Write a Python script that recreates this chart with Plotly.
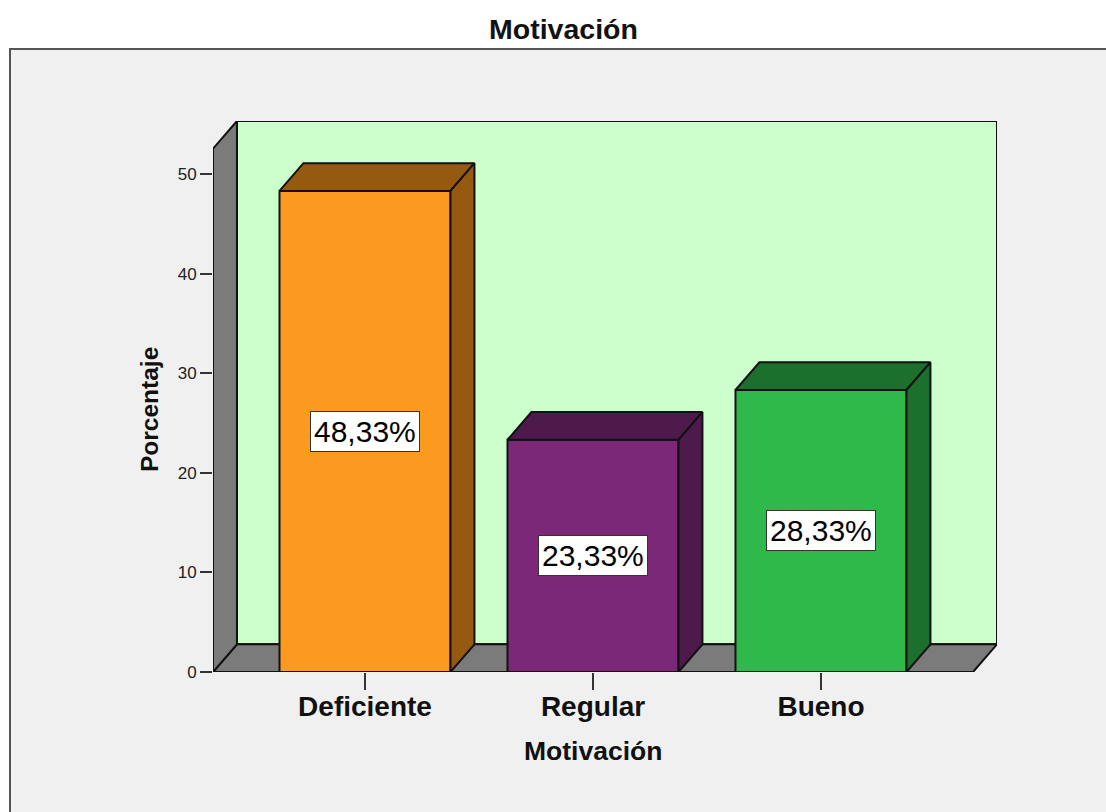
import plotly.graph_objects as go

# Survey results: share of respondents per motivation level
categories = ["Deficiente", "Regular", "Bueno"]
percentages = [48.33, 23.33, 28.33]
y_ticks = [0, 10, 20, 30, 40, 50]

front_colors = ["#FB9A1E", "#7B2878", "#2FB94B"]
shade_colors = ["#955A0F", "#4D1A4B", "#1C702D"]

FONT = "Liberation Sans"
EDGE = "#111111"
WIDTH, HEIGHT = 1106, 812
LEFT, RIGHT, TOP, BOTTOM = 213, 109, 121, 140

# Axis limits and the oblique depth offset, all in data units
X_MIN, X_MAX = -0.6667, 2.772
Y_MAX = 55.35
DX, DY = 0.105, 2.78
BAR_W = 0.75
EDGE_W = 2


def polygon(points):
    return "M " + " L ".join(f"{x},{y}" for x, y in points) + " Z"


def paper_x(px):
    return (px - LEFT) / (WIDTH - LEFT - RIGHT)


def paper_y(py):
    return 1 - (py - TOP) / (HEIGHT - TOP - BOTTOM)


positions = list(range(len(categories)))
fig = go.Figure()

# Front faces of the bars
fig.add_trace(go.Bar(
    x=positions, y=percentages, width=BAR_W,
    marker=dict(color=front_colors, line=dict(color=EDGE, width=EDGE_W)),
    hoverinfo="x+y", showlegend=False,
))

# Top and side faces of each bar, offset by the depth vector
for pos, value, shade in zip(positions, percentages, shade_colors):
    x0, x1 = pos - BAR_W / 2, pos + BAR_W / 2
    top_x = [x0, x0 + DX, x1 + DX, x1, x0]
    top_y = [value, value + DY, value + DY, value, value]
    side_x = [x1, x1 + DX, x1 + DX, x1, x1]
    side_y = [0, DY, value + DY, value, 0]
    for xs, ys in ((top_x, top_y), (side_x, side_y)):
        fig.add_trace(go.Scatter(
            x=xs, y=ys, mode="lines", fill="toself", fillcolor=shade,
            line=dict(color=EDGE, width=EDGE_W), hoverinfo="skip", showlegend=False,
        ))

# Chart panel, back wall, floor and left wall sit behind the bars
shapes = [
    dict(type="rect", xref="paper", yref="paper", layer="below",
         x0=paper_x(10), x1=paper_x(1120), y0=paper_y(49), y1=paper_y(830),
         fillcolor="#F0F0F0", line=dict(color="#555555", width=2)),
    dict(type="path", xref="x", yref="y", layer="below",
         path=polygon([(X_MIN + DX, DY), (X_MAX, DY), (X_MAX, Y_MAX), (X_MIN + DX, Y_MAX)]),
         fillcolor="#CCFFCC", line=dict(color=EDGE, width=EDGE_W)),
    dict(type="path", xref="x", yref="y", layer="below",
         path=polygon([(X_MIN, 0), (X_MAX - DX, 0), (X_MAX, DY), (X_MIN + DX, DY)]),
         fillcolor="#7B7B7B", line=dict(color=EDGE, width=EDGE_W)),
    dict(type="path", xref="x", yref="y", layer="below",
         path=polygon([(X_MIN, 0), (X_MIN + DX, DY), (X_MIN + DX, Y_MAX), (X_MIN, Y_MAX - DY)]),
         fillcolor="#7B7B7B", line=dict(color=EDGE, width=EDGE_W)),
]

# Percentage labels centred on each bar, in Spanish decimal notation
annotations = [
    dict(x=pos, y=value / 2, xref="x", yref="y", showarrow=False,
         text=f"{value:.2f}%".replace(".", ","),
         font=dict(family=FONT, size=30, color="#000000"),
         bgcolor="#FFFFFF", bordercolor="#333333", borderwidth=1, borderpad=3)
    for pos, value in zip(positions, percentages)
]
annotations += [
    dict(x=1, y=paper_y(751), xref="x", yref="paper", showarrow=False,
         xanchor="center", yanchor="middle",
         text="<b>Motivación</b>", font=dict(family=FONT, size=26.5, color="#111111")),
    dict(x=paper_x(149), y=paper_y(410), xref="paper", yref="paper", showarrow=False,
         xanchor="center", yanchor="middle",
         text="<b>Porcentaje</b>", textangle=-90,
         font=dict(family=FONT, size=24.5, color="#111111")),
]

fig.update_layout(
    width=WIDTH, height=HEIGHT,
    margin=dict(l=LEFT, r=RIGHT, t=TOP, b=BOTTOM, autoexpand=False),
    paper_bgcolor="#FFFFFF", plot_bgcolor="rgba(0,0,0,0)",
    title=dict(text="<b>Motivación</b>", x=563.5 / WIDTH, xanchor="center",
               y=1 - 29 / HEIGHT, yanchor="middle",
               font=dict(family=FONT, size=28.5, color="#111111")),
    xaxis=dict(range=[X_MIN, X_MAX], tickmode="array", tickvals=positions,
               ticktext=[f"<b>{c}</b>" for c in categories],
               ticks="outside", ticklen=17, tickwidth=2, tickcolor="#333333",
               ticklabelstandoff=-8,
               tickfont=dict(family=FONT, size=28, color="#111111"),
               showgrid=False, zeroline=False, showline=False),
    yaxis=dict(range=[0, Y_MAX], tickmode="array", tickvals=y_ticks,
               ticks="outside", ticklen=12, tickwidth=2, tickcolor="#333333",
               tickfont=dict(family=FONT, size=17, color="#222222"),
               showgrid=False, zeroline=False, showline=False),
    shapes=shapes, annotations=annotations,
)

fig.write_html("out.html")
